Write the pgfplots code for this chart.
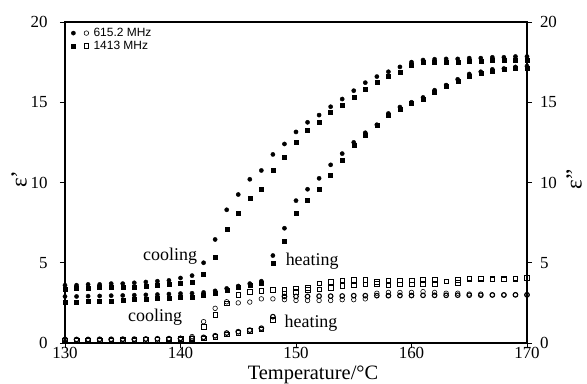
\documentclass[border=0pt]{standalone}
\usepackage{fontspec}
\setmainfont{Liberation Serif}
\newfontfamily\sansf{Liberation Sans}
\usepackage{pgfplots}
\pgfplotsset{compat=1.18}
\usepackage{pgfplotstable}

\pgfplotstableread{
T   A     B     C     D     E     F     G     H
130 3.60 3.35 2.90 2.55 0.20 0.15 0.22 0.17
131 3.60 3.40 2.90 2.55 0.20 0.16 0.22 0.17
132 3.65 3.40 2.92 2.58 0.20 0.16 0.22 0.17
133 3.65 3.45 2.93 2.60 0.21 0.17 0.23 0.18
134 3.70 3.45 2.95 2.63 0.21 0.17 0.23 0.18
135 3.70 3.50 2.96 2.66 0.22 0.18 0.24 0.19
136 3.75 3.50 2.98 2.70 0.22 0.18 0.24 0.19
137 3.80 3.55 3.00 2.73 0.23 0.19 0.25 0.20
138 3.85 3.60 3.02 2.77 0.24 0.20 0.26 0.21
139 3.90 3.65 3.05 2.80 0.25 0.21 0.27 0.22
140 4.05 3.75 3.08 2.84 0.30 0.25 0.28 0.23
141 4.20 3.80 3.10 2.88 0.40 0.30 0.30 0.25
142 5.00 4.30 3.15 2.95 1.33 1.00 0.35 0.30
143 6.45 5.33 3.25 3.10 2.16 1.75 0.45 0.40
144 8.30 7.10 3.40 3.28 2.57 2.47 0.62 0.55
145 9.25 8.10 3.55 3.45 2.50 3.00 0.70 0.65
146 10.20 9.00 3.70 3.60 2.55 3.20 0.80 0.75
147 10.75 9.60 3.85 3.75 2.75 3.25 0.92 0.85
148 11.75 10.75 5.45 5.00 2.75 3.30 1.64 1.45
149 12.40 11.60 7.15 6.35 2.70 3.35 2.90 3.10
150 13.15 12.50 8.87 8.08 2.65 3.40 2.90 3.20
151 13.75 13.25 9.58 8.90 2.65 3.45 2.90 3.30
152 14.20 13.75 10.26 9.60 2.65 3.72 2.92 3.35
153 14.72 14.35 11.10 10.47 2.65 3.82 2.92 3.45
154 15.20 14.80 11.80 11.40 2.70 3.90 2.93 3.55
155 15.72 15.30 12.50 12.30 2.70 3.95 2.95 3.60
156 16.22 15.83 13.10 12.96 2.75 3.95 2.95 3.65
157 16.60 16.24 13.60 13.55 3.10 3.80 2.95 3.70
158 16.90 16.60 14.30 14.20 3.15 3.88 2.95 3.62
159 17.20 16.90 14.70 14.56 3.15 3.90 2.96 3.65
160 17.50 17.28 15.00 14.93 3.15 3.90 2.96 3.65
161 17.63 17.47 15.30 15.20 3.20 3.95 2.97 3.70
162 17.68 17.50 15.75 15.65 3.15 3.95 2.97 3.70
163 17.70 17.50 16.07 16.00 3.10 3.85 2.97 3.85
164 17.70 17.50 16.43 16.32 3.10 3.95 2.98 3.75
165 17.75 17.55 16.76 16.64 3.05 4.03 2.98 4.00
166 17.75 17.55 16.90 16.80 3.05 4.03 2.98 4.00
167 17.80 17.60 17.05 16.95 3.00 4.00 2.99 3.98
168 17.80 17.60 17.10 17.05 3.00 4.00 2.99 3.98
169 17.85 17.60 17.20 17.10 3.00 4.03 3.00 4.00
170 17.85 17.60 17.25 17.15 3.00 4.05 3.00 4.05
}\datatab

\pgfplotsset{
 fc/.style={only marks, mark=*, mark size=2.1bp, black},
 fs/.style={only marks, mark=square*, mark size=2.0bp, black},
 oc/.style={only marks, mark=o, mark size=2.3bp, black, mark options={line width=0.6bp}},
 os/.style={only marks, mark=square, mark size=2.3bp, black, mark options={line width=0.6bp}},
 common/.style={
   scale only axis, width=462bp, height=321bp,
   xmin=130, xmax=170, ymin=0, ymax=20,
   tick align=outside, major tick length=5bp,
   axis line style={line width=1.1bp},
   every tick/.style={black, line width=0.8bp},
   tick label style={font=\fontsize{17}{17}\selectfont},
   label style={font=\fontsize{19}{19}\selectfont},
   /pgf/number format/assume math mode=true,
 },
}
\newcommand{\lf}{\sansf\fontsize{12}{13}\selectfont}

\begin{document}
\begin{tikzpicture}
\useasboundingbox (-65bp,-41bp) rectangle (522bp,343bp);
\begin{axis}[common,
  xtick={130,140,...,170}, ytick={0,5,...,20},
  xtick pos=bottom, ytick pos=left,
  yticklabel style={xshift=-9bp},
  xticklabel style={inner sep=1bp, yshift=1.5bp},
  xlabel={\fontsize{20.5}{20.5}\selectfont Temperature/°C},
  ylabel={\fontsize{23}{23}\selectfont ε'},
  xlabel style={at={(axis description cs:0.5,0)}, anchor=base, yshift=-36bp, xshift=17bp, inner sep=0pt},
  ylabel style={at={(axis description cs:0,0.51)}, anchor=center, rotate=0, yshift=46bp},
  legend style={at={(axis description cs:0,1)}, anchor=north west, draw=none, fill=none,
     font=\lf, row sep=-1bp, inner sep=0bp,
     xshift=5bp, yshift=-4bp},
  legend cell align=left,
]
\addlegendimage{legend image code/.code={\fill[black] (0,0) circle (2.1bp); \draw[black,line width=0.6bp] (13bp,0) circle (2.3bp); \path (-3bp,0) (18bp,0);}}
\addlegendentry{\lf 615.2 MHz}
\addlegendimage{legend image code/.code={\fill[black] (-2bp,-2bp) rectangle (2bp,2bp); \draw[black,line width=0.6bp] (10.7bp,-2.3bp) rectangle (15.3bp,2.3bp); \path (-3bp,0) (18bp,0);}}
\addlegendentry{\lf 1413 MHz}
\addplot[fc, forget plot] table[x=T,y=A] {\datatab};
\addplot[fs, forget plot] table[x=T,y=B] {\datatab};
\addplot[fc, forget plot] table[x=T,y=C] {\datatab};
\addplot[fs, forget plot] table[x=T,y=D] {\datatab};
\node[font=\fontsize{18}{18}\selectfont] at (axis cs:139.1,5.38) {cooling};
\node[font=\fontsize{18}{18}\selectfont] at (axis cs:137.8,1.6) {cooling};
\node[font=\fontsize{18}{18}\selectfont] at (axis cs:151.4,5.07) {heating};
\node[font=\fontsize{18}{18}\selectfont] at (axis cs:151.3,1.23) {heating};
\end{axis}
\begin{axis}[common,
  axis x line=none, axis y line*=right,
  ytick={0,5,...,20},
  yticklabel style={xshift=4.5bp},
  ylabel={\fontsize{23}{23}\selectfont ε''},
  ylabel style={at={(axis description cs:1,0.51)}, anchor=center, yshift=-47bp},
]
\addplot[oc] table[x=T,y=E] {\datatab};
\addplot[os] table[x=T,y=F] {\datatab};
\addplot[oc, mark options={line width=1.1bp}] table[x=T,y=G] {\datatab};
\addplot[os] table[x=T,y=H] {\datatab};
\end{axis}
\end{tikzpicture}
\end{document}
